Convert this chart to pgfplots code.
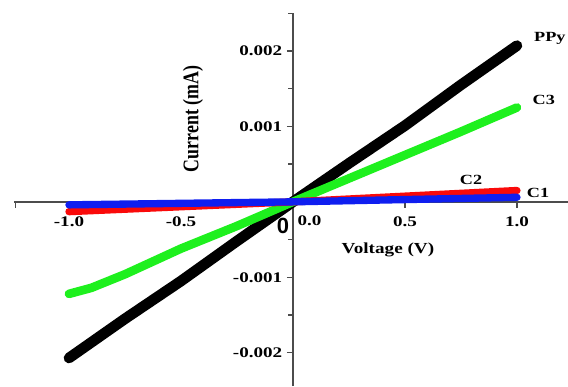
\documentclass[border=0pt]{standalone}
\usepackage{fontspec}
\setmainfont{Liberation Serif}
\newfontfamily\sansf{Liberation Sans}
\usepackage{graphicx}
\usepackage{pgfplots}
\pgfplotsset{compat=1.18}
\newcommand{\sx}[1]{\scalebox{1.3}[1]{#1}}
\definecolor{lime}{RGB}{30,240,30}
\definecolor{myred}{RGB}{250,10,10}
\definecolor{myblue}{RGB}{15,30,240}
\begin{document}
\begin{tikzpicture}
\begin{axis}[
  scale only axis, width=415.5pt, height=279.6pt,
  xmin=-1.245, xmax=1.23, ymin=-0.002444, ymax=0.0025,
  axis lines=middle,
  axis line style={-, draw=black!70, line width=1.1pt},
  xtick={-1,-0.5,0.5,1},
  xticklabels={\sx{-1.0},\sx{-0.5},\sx{0.5},\sx{1.0}},
  extra x ticks={-1.24}, extra x tick labels={},
  ytick={-0.002,-0.001,0.001,0.002},
  yticklabels={\sx{-0.002},\sx{-0.001},\sx{0.001},\sx{0.002}},
  minor ytick={-0.0015,-0.0005,0.0005,0.0015,0.0025},
  scaled y ticks=false,
  tick align=outside, major tick length=4.5pt, minor tick length=3.5pt,
  tick style={draw=black!70, line width=1pt},
  ticklabel style={font=\bfseries\fontsize{11}{13}\selectfont},
  xticklabel style={yshift=-3pt},
  clip=false,
]
\addplot[black, line width=8pt, line cap=round] coordinates {
  (-1,-0.00207) (-0.75,-0.00155) (-0.5,-0.00105) (-0.25,-0.00052) (0,0)
  (0.25,0.00051) (0.5,0.00101) (0.75,0.00155) (1,0.00207)};
\addplot[lime, line width=6.5pt, line cap=round] coordinates {
  (-1,-0.00122) (-0.9,-0.00114) (-0.75,-0.00096) (-0.5,-0.00062) (-0.25,-0.00032) (0,0)
  (0.25,0.00031) (0.5,0.00062) (0.75,0.00093) (1,0.00125)};
\addplot[myred, line width=5.5pt, line cap=round] coordinates {
  (-1,-0.00013) (0,0) (1,0.00015)};
\addplot[myblue, line width=5.5pt, line cap=round] coordinates {
  (-1,-0.00004) (0,0) (1,0.00006)};

\node[font=\bfseries\fontsize{10.5}{12}\selectfont] at (axis cs:1.147,0.00217) {\sx{PPy}};
\node[font=\bfseries\fontsize{10.5}{12}\selectfont] at (axis cs:1.12,0.001355) {\sx{C3}};
\node[font=\bfseries\fontsize{10.5}{12}\selectfont] at (axis cs:0.795,0.00029) {\sx{C2}};
\node[font=\bfseries\fontsize{10.5}{12}\selectfont] at (axis cs:1.094,0.00012) {\sx{C1}};
\node[rotate=90, font=\bfseries\fontsize{13.4}{15}\selectfont] at (axis cs:-0.446,0.0011) {\scalebox{1}[1.25]{Current (mA)}};
\node[font=\bfseries\fontsize{11.5}{13}\selectfont] at (axis cs:0.424,-0.00064) {\scalebox{1.25}[1]{Voltage (V)}};
\node[font=\sansf\bfseries\fontsize{16.5}{18}\selectfont] at (axis cs:-0.045,-0.000316) {0};
\node[font=\bfseries\fontsize{11}{13}\selectfont] at (axis cs:0.074,-0.00025) {\sx{0.0}};

\coordinate (bl) at (axis cs:-1.308,-0.002444);
\coordinate (tr) at (axis cs:1.228,0.002675);
\end{axis}
\pgfresetboundingbox
\useasboundingbox (bl) rectangle (tr);
\end{tikzpicture}
\end{document}
